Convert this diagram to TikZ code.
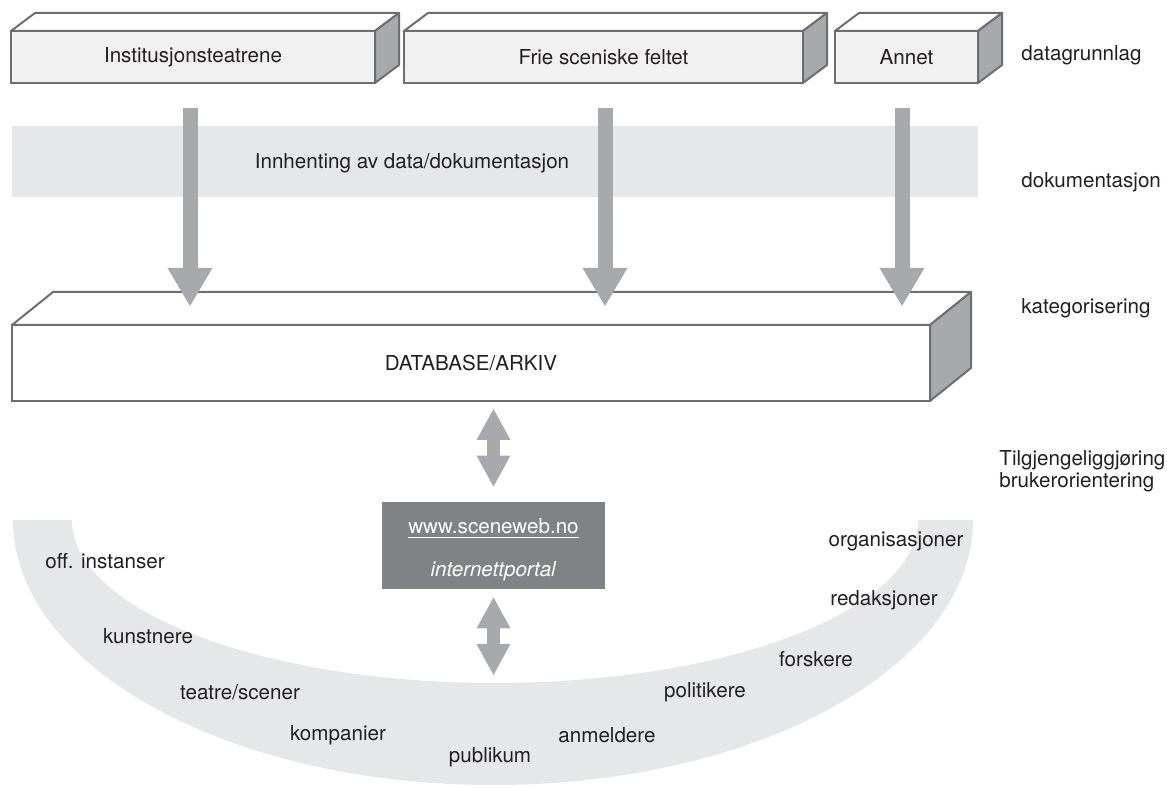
\documentclass[tikz,border=0pt]{standalone}
\usepackage{fontspec}
\setmainfont{TeX Gyre Heros}
\usepackage{tikz}
\usetikzlibrary{arrows.meta}
\definecolor{strek}{HTML}{6D6E71}
\definecolor{sidegraa}{HTML}{A7A9AC}
\definecolor{pilgraa}{HTML}{A7A9AC}
\definecolor{baandgraa}{HTML}{E6E7E8}
\definecolor{frontgraa}{HTML}{F1F1F2}
\definecolor{webgraa}{HTML}{808285}
\definecolor{tekst}{HTML}{231F20}
\tikzstyle{kilde} = [draw=strek, fill=frontgraa, line width=1pt, rectangle, minimum height=26pt, inner sep=0pt, outer sep=0pt]
\tikzstyle{arkiv} = [draw=strek, fill=white, line width=1pt, rectangle, minimum width=459pt, minimum height=38pt, inner sep=0pt, outer sep=0pt]
\tikzstyle{topp} = [draw=strek, fill=white, line width=1pt, line join=round]
\tikzstyle{side} = [draw=strek, fill=sidegraa, line width=1pt, line join=round]
\tikzstyle{pil} = [draw=pilgraa, line width=7.5pt, -{Triangle[width=22.5pt, length=19pt, line width=0pt]}]
\tikzstyle{dobbelpil} = [draw=pilgraa, line width=6.5pt, {Triangle[width=17pt, length=15.5pt, line width=0pt]}-{Triangle[width=17pt, length=15.5pt, line width=0pt]}]
\tikzstyle{portal} = [fill=webgraa, minimum width=111.5pt, minimum height=43.5pt, inner sep=0pt]
\tikzstyle{portaltekst} = [text=white, inner sep=0pt]
\tikzstyle{etikett} = [anchor=west, inner sep=0pt, align=left]
\tikzstyle{gruppe} = [inner sep=0pt]

\begin{document}
\begin{tikzpicture}[x=0.5pt, y=0.5pt, font=\fontsize{10.3}{11.2}\selectfont, text=tekst]
	\useasboundingbox (0,0) rectangle (1167,787);
	% brukergrupper
	\fill[baandgraa] (13,267) arc[start angle=180, end angle=360, x radius=480, y radius=265]
		-- (918,267) arc[start angle=0, end angle=-180, x radius=423, y radius=163] -- cycle;
	\node[fill=baandgraa, minimum width=483pt, minimum height=35.5pt, inner sep=0pt] (band) at (495,625.5) {};
	\node[gruppe] (innhenting) at (412,624) {Innhenting av data/dokumentasjon};
	% datagrunnlag
	\node[kilde, minimum width=182pt] (inst) at (193,730) {Institusjonsteatrene};
	\node[kilde, minimum width=199.5pt] (frie) at (603.5,730) {Frie sceniske feltet};
	\node[kilde, minimum width=71.5pt] (annet) at (906.5,730) {Annet};
	\foreach \b in {inst,frie,annet}{
		\filldraw[topp] (\b.north west) -- ++(12pt,9pt) -- ([shift={(12pt,9pt)}]\b.north east) -- (\b.north east) -- cycle;
		\filldraw[side] (\b.north east) -- ++(12pt,9pt) -- ([shift={(12pt,9pt)}]\b.south east) -- (\b.south east) -- cycle;
	}
	% database
	\node[arkiv] (db) at (471,424) {DATABASE/ARKIV};
	\filldraw[topp] (db.north west) -- ++(20.5pt,16.5pt) -- ([shift={(20.5pt,16.5pt)}]db.north east) -- (db.north east) -- cycle;
	\filldraw[side] (db.north east) -- ++(20.5pt,16.5pt) -- ([shift={(20.5pt,16.5pt)}]db.south east) -- (db.south east) -- cycle;
	\foreach \b/\dx in {inst/-1.5pt, frie/0.75pt, annet/-2.25pt}
		\draw[pil] ([shift={(\dx,-12.5pt)}]\b.south) -- ([shift={(\dx,9.5pt)}]\b.south |- db.north);
	% portal
	\node[portal] (web) at (493.5,241.5) {};
	\node[portaltekst] (url) at ([yshift=8.5pt]web.center) {\underline{www.sceneweb.no}};
	\node[portaltekst] (portalnavn) at ([yshift=-13pt]web.center) {\textit{internettportal}};
	\coordinate (publikumsbue) at (493.5,112);
	\draw[dobbelpil] ([yshift=-4pt]db.south -| web.north) -- ([yshift=7.5pt]web.north);
	\draw[dobbelpil] ([yshift=-4pt]web.south) -- (publikumsbue);
	% nivaaer
	\node[etikett] (grunnlag) at (1021,732) {datagrunnlag};
	\node[etikett] (dok) at (1021,605) {dokumentasjon};
	\node[etikett] (kat) at (1021,479) {kategorisering};
	\node[etikett] (tilg) at (999,316) {Tilgjengeliggjøring\\brukerorientering};
	% brukere
	\node[gruppe] (off) at (105,226) {off. instanser};
	\node[gruppe] (kunst) at (148,151) {kunstnere};
	\node[gruppe] (teatre) at (240,95) {teatre/scener};
	\node[gruppe] (komp) at (338,52) {kompanier};
	\node[gruppe] (pub) at (490,30) {publikum};
	\node[gruppe] (anm) at (607,52) {anmeldere};
	\node[gruppe] (pol) at (705,95) {politikere};
	\node[gruppe] (forsk) at (816,128) {forskere};
	\node[gruppe] (red) at (884,187) {redaksjoner};
	\node[gruppe] (org) at (896,246) {organisasjoner};
\end{tikzpicture}
\end{document}
